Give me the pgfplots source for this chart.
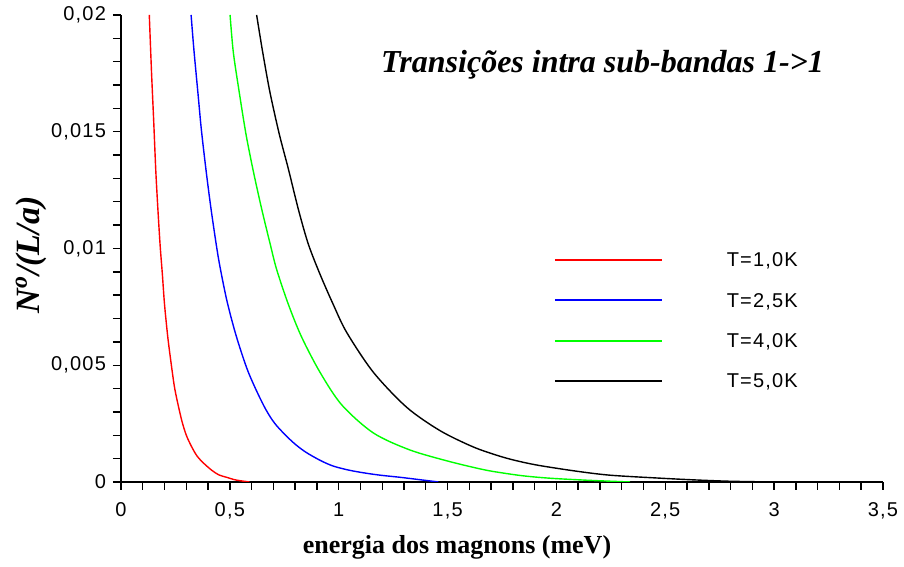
\documentclass[border=0pt]{standalone}
\usepackage{fontspec}
\setmainfont{Liberation Serif}
\newfontfamily\arial[LetterSpace=6]{Liberation Sans}
\usepackage{pgfplots}
\pgfplotsset{compat=1.18}
\definecolor{cred}{RGB}{255,0,0}
\definecolor{cblue}{RGB}{0,0,255}
\definecolor{cgreen}{RGB}{0,255,0}
\definecolor{cblack}{RGB}{0,0,0}

\begin{document}
\begin{tikzpicture}
\begin{axis}[
  scale only axis,
  width=381pt, height=233.5pt,
  xmin=0, xmax=3.5, ymin=0, ymax=0.02,
  axis lines*=left,
  axis line style={line width=0.9pt, -},
  xtick={0,0.5,1,1.5,2,2.5,3,3.5},
  ytick={0,0.005,0.01,0.015,0.02},
  minor x tick num=4,
  minor y tick num=4,
  tick align=outside,
  major tick length=4pt, minor tick length=4pt,
  every tick/.style={black, line width=0.7pt},
  scaled y ticks=false,
  /pgf/number format/assume math mode=true,
  /pgf/number format/use comma,
  yticklabel style={/pgf/number format/fixed, /pgf/number format/precision=3},
  xticklabel style={/pgf/number format/fixed, yshift=-3pt},
  ticklabel style={font=\arial\fontsize{10}{12}\selectfont},
  xlabel={energia dos magnons (meV)},
  xlabel style={at={(axis description cs:0.441,-0.141)}, anchor=center,
    font=\bfseries\fontsize{13}{15}\selectfont},
  ylabel={\textbf{\textit{N\textsuperscript{o}/(L/a)}}},
  ylabel style={at={(axis description cs:-0.118,0.486)}, anchor=center,
    font=\fontsize{17}{20}\selectfont},
  legend style={at={(rel axis cs:0.568,0.4905)}, anchor=north west,
    draw=none, fill=none, inner sep=0pt, outer sep=0pt,
    row sep=11.1pt, column sep=32pt,
    nodes={anchor=base, inner sep=0pt, text height=7pt, text depth=2pt,
      font=\arial\fontsize{10}{12}\selectfont}},
  legend image code/.code={\draw[#1, line width=1pt] (0pt,3.4pt) -- (53.5pt,3.4pt);},
  legend cell align=left,
]
% T = 1,0 K
\addplot[color=cred, line width=0.7pt, no marks, smooth] coordinates {
  (0.130,0.0200) (0.140,0.0176) (0.150,0.0155) (0.160,0.0133) (0.170,0.0116)
  (0.180,0.0101) (0.190,0.0089) (0.200,0.0076) (0.215,0.0062) (0.230,0.0051)
  (0.245,0.0041) (0.260,0.0034) (0.280,0.0026) (0.300,0.0020) (0.325,0.0015)
  (0.350,0.0011) (0.380,0.0008) (0.417,0.0005) (0.450,0.0003) (0.485,0.0002)
  (0.520,0.0001) (0.550,0.00005) (0.590,0.0)
};
\addlegendentry{T=1,0K}
% T = 2,5 K
\addplot[color=cblue, line width=0.7pt, no marks, smooth] coordinates {
  (0.322,0.0200) (0.335,0.0185) (0.355,0.0165) (0.369,0.0151) (0.390,0.0134)
  (0.412,0.0118) (0.437,0.0102) (0.455,0.0092) (0.488,0.0077) (0.531,0.0062)
  (0.585,0.0047) (0.654,0.0033) (0.707,0.0025) (0.784,0.00175) (0.845,0.0013)
  (0.914,0.00093) (0.975,0.00068) (1.050,0.00050) (1.129,0.00037) (1.200,0.00028)
  (1.282,0.00020) (1.370,0.00010) (1.458,0.0)
};
\addlegendentry{T=2,5K}
% T = 4,0 K
\addplot[color=cgreen, line width=0.7pt, no marks, smooth] coordinates {
  (0.501,0.0200) (0.516,0.0184) (0.543,0.0167) (0.574,0.0149) (0.608,0.0133)
  (0.646,0.0117) (0.685,0.0102) (0.715,0.0091) (0.769,0.0076) (0.830,0.0062)
  (0.914,0.0047) (1.014,0.0033) (1.159,0.0021) (1.327,0.00137) (1.511,0.00087)
  (1.664,0.00053) (1.750,0.00039) (1.850,0.00026) (1.971,0.00016) (2.150,0.00007)
  (2.338,0.0)
};
\addlegendentry{T=4,0K}
% T = 5,0 K
\addplot[color=cblack, line width=0.7pt, no marks, smooth] coordinates {
  (0.623,0.0200) (0.651,0.0184) (0.684,0.0167) (0.727,0.0149) (0.769,0.0134)
  (0.814,0.0117) (0.860,0.0102) (0.914,0.0089) (0.975,0.0076) (1.037,0.0064)
  (1.159,0.0047) (1.312,0.0032) (1.465,0.0022) (1.618,0.0015) (1.741,0.00110)
  (1.830,0.00088) (1.925,0.00070) (2.093,0.00046) (2.246,0.00029) (2.461,0.00017)
  (2.630,0.00009) (2.800,0.00003) (2.995,0.0)
};
\addlegendentry{T=5,0K}
\node[anchor=base, font=\bfseries\itshape\fontsize{16}{19}\selectfont]
  at (axis cs:2.212,0.01752) {Transições intra sub-bandas 1->1};
\coordinate (bl) at (rel axis cs:-0.1588,-0.182);
\coordinate (tr) at (rel axis cs:1.0276,1.0321);
\end{axis}
\pgfresetboundingbox
\useasboundingbox (bl) rectangle (tr);
\end{tikzpicture}
\end{document}
